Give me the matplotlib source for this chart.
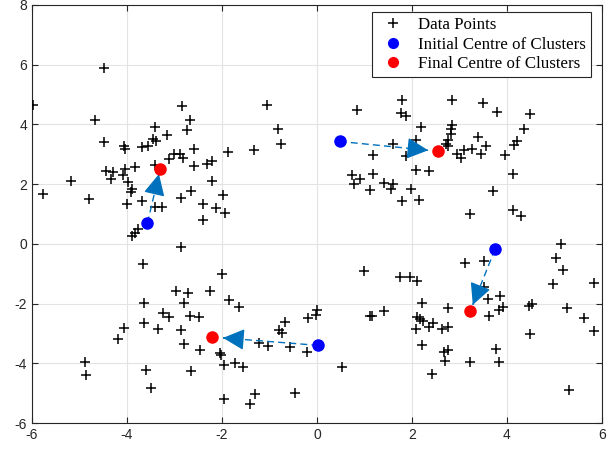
import numpy as np
import matplotlib
matplotlib.use("Agg")
import matplotlib.pyplot as plt
from matplotlib.lines import Line2D

plt.rcParams["axes.unicode_minus"] = False

# data points
data_x = [
    # top-left group
    -4.48, -5.99, -2.84, -4.67, -2.67, -3.42, -2.74, -3.16, -3.45, -3.38, -4.49, -4.06, -4.05, -3.68,
    -3.55, -2.59, -1.88, -3.02, -2.88, -3.11, -2.83, -2.32, -2.20, -2.58, -3.42, -3.84, -4.04, -4.44,
    -4.30, -4.08, -4.34, -5.17, -3.98, -2.20, -5.76, -3.89, -3.92, -4.79, -3.68, -2.87, -2.65, -1.97,
    -4.01, -3.40, -3.26, -2.40, -2.12, -1.93, -2.40, -3.76, -3.83, -3.89, -1.05, -0.81, -0.76, -1.32,
    # bottom-left group
    -2.86, -3.67, -1.99, -2.97, -2.72, -2.25, -3.64, -2.79, -1.86, -1.65, -3.25, -3.11, -2.68, -2.49,
    -3.65, -4.06, -3.35, -2.86, -4.19, -2.79, -2.46, -2.05, -2.03, -1.95, -1.72, -1.55, -4.89, -4.86,
    -3.60, -2.65, -3.49, -1.95, -1.30, -1.42, -0.46, -1.21, -1.02, -0.56, -0.21, -0.79, -0.74, -0.67,
    -0.18, -0.02, 0.00,
    # top-right group
    0.85, 1.79, 1.77, 1.88, 2.84, 3.49, 3.80, 4.48, 4.37, 2.20, 2.85, 2.82, 2.83, 2.08, 2.77, 2.72,
    2.76, 3.40, 3.56, 3.26, 3.10, 2.96, 3.04, 3.45, 3.96, 4.14, 4.21, 1.61, 1.19, 1.88, 2.08, 2.37,
    1.19, 0.74, 0.90, 0.79, 1.42, 1.61, 1.56, 1.11, 1.98, 1.79, 2.14, 3.70, 4.13, 3.23, 4.13, 4.30,
    # bottom-right group
    5.14, 5.04, 5.18, 4.98, 5.84, 5.26, 5.63, 5.84, 4.46, 4.53, 4.49, 5.31, 3.11, 3.52, 3.52, 3.37,
    3.60, 3.86, 3.91, 3.84, 3.63, 1.00, 1.75, 1.96, 2.11, 2.22, 2.75, 1.42, 1.12, 1.17, 2.11, 2.17,
    2.24, 2.45, 2.35, 2.09, 2.64, 2.77, 2.21, 2.67, 2.75, 2.69, 3.23, 3.77, 3.84, 2.43, 0.53,
]
data_y = [
    5.90, 4.66, 4.63, 4.16, 4.14, 3.92, 3.80, 3.65, 3.51, 3.45, 3.41, 3.27, 3.18, 3.23,
    3.27, 3.18, 3.06, 3.01, 3.01, 2.84, 2.88, 2.68, 2.76, 2.62, 2.65, 2.56, 2.52, 2.43,
    2.41, 2.32, 2.17, 2.09, 2.06, 2.12, 1.68, 1.84, 1.73, 1.50, 1.45, 1.53, 1.78, 1.64,
    1.34, 1.23, 1.23, 1.34, 1.20, 1.03, 0.81, 0.49, 0.38, 0.27, 4.66, 3.86, 3.35, 3.13,
    -0.09, -0.69, -1.01, -1.57, -1.63, -1.58, -1.99, -1.97, -1.88, -2.10, -2.30, -2.46, -2.42, -2.46,
    -2.64, -2.81, -2.84, -2.89, -3.17, -3.36, -3.56, -3.65, -3.72, -4.05, -4.00, -4.12, -3.95, -4.40,
    -4.23, -4.27, -4.83, -5.18, -5.04, -5.35, -5.01, -3.31, -3.42, -3.45, -3.63, -2.89, -3.00, -2.61,
    -2.47, -2.38, -2.21,
    4.47, 4.83, 4.39, 4.27, 4.81, 4.72, 4.41, 4.34, 3.86, 3.92, 3.99, 3.85, 3.69, 3.49, 3.47, 3.36,
    3.29, 3.58, 3.27, 3.18, 3.13, 3.02, 2.86, 3.01, 2.96, 3.32, 3.45, 3.36, 2.99, 2.93, 2.48, 2.45,
    2.33, 2.32, 2.18, 2.00, 2.04, 2.01, 1.84, 1.81, 1.84, 1.42, 1.48, 1.76, 2.35, 1.01, 1.14, 0.94,
    0.00, -0.46, -0.87, -1.34, -1.30, -2.16, -2.47, -2.92, -2.08, -2.01, -3.02, -4.90, -0.63, -0.57, -1.43, -1.60,
    -1.85, -1.74, -2.10, -2.21, -2.41, -0.90, -1.12, -1.12, -1.24, -1.99, -2.14, -2.24, -2.42, -2.42, -2.44, -2.53,
    -2.58, -2.66, -2.80, -2.86, -2.86, -2.78, -3.39, -3.63, -3.56, -3.92, -3.95, -3.53, -3.97, -4.36, -4.12,
]

# cluster centres
init_x = [-3.57, 0.03, 0.48, 3.75]
init_y = [0.69, -3.40, 3.43, -0.18]
final_x = [-3.30, -2.20, 2.55, 3.23]
final_y = [2.52, -3.12, 3.10, -2.25]

arrow_col = "#0072BD"

fig = plt.figure(figsize=(6.16, 4.51), dpi=100)
ax = fig.add_axes([0.052, 0.062, 0.925, 0.927])

ax.plot(data_x, data_y, "+", color="black", markersize=7, markeredgewidth=1.1,
        linestyle="none", zorder=3)

# quiver-style arrows (scaled to 0.9 like MATLAB auto-scale)
for x0, y0, x1, y1 in zip(init_x, init_y, final_x, final_y):
    tx = x0 + 0.9 * (x1 - x0)
    ty = y0 + 0.9 * (y1 - y0)
    ax.plot([x0, tx], [y0, ty], linestyle=(0, (5, 3)), color=arrow_col, lw=1.0, zorder=4)
    d = np.hypot(x1 - x0, y1 - y0)
    bx = tx - 0.02 * (x1 - x0) / d
    by = ty - 0.02 * (y1 - y0) / d
    ax.annotate("", xy=(tx, ty), xytext=(bx, by),
                arrowprops=dict(arrowstyle="-|>,head_length=1.1,head_width=0.55",
                                color=arrow_col, lw=1.0, shrinkA=0, shrinkB=0,
                                mutation_scale=12),
                zorder=5)

ax.plot(init_x, init_y, "o", color="blue", markersize=8, linestyle="none", zorder=6)
ax.plot(final_x, final_y, "o", color="red", markersize=8, linestyle="none", zorder=6)

ax.set_xlim(-6, 6)
ax.set_ylim(-6, 8)
ax.set_xticks(np.arange(-6, 7, 2))
ax.set_yticks(np.arange(-6, 9, 2))
ax.grid(True, color="#e3e3e3", linewidth=0.8)
ax.set_axisbelow(True)
ax.tick_params(direction="in", top=True, right=True, length=4, width=0.8,
               colors="#262626", labelsize=10)
for lab in ax.get_xticklabels() + ax.get_yticklabels():
    lab.set_family("Liberation Sans")
for s in ax.spines.values():
    s.set_color("#262626")
    s.set_linewidth(0.8)

handles = [
    Line2D([], [], marker="+", color="black", linestyle="none", markersize=7, markeredgewidth=1.1),
    Line2D([], [], marker="o", color="blue", linestyle="none", markersize=7),
    Line2D([], [], marker="o", color="red", linestyle="none", markersize=7),
]
leg = ax.legend(handles, ["Data Points", "Initial Centre of Clusters", "Final Centre of Clusters"],
                loc="upper right", bbox_to_anchor=(0.981, 0.983), fancybox=False,
                edgecolor="#262626", framealpha=1, borderpad=0.3, handletextpad=0.6,
                labelspacing=0.2, handlelength=1.8, borderaxespad=0,
                prop={"family": "Liberation Serif", "size": 12.2})
leg.get_frame().set_linewidth(0.8)

fig.savefig("out.png", dpi=100)
